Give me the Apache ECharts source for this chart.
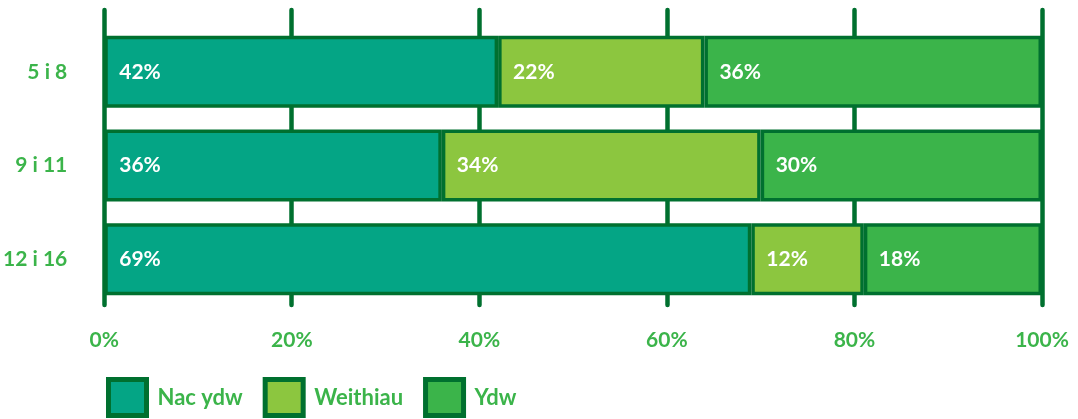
<!DOCTYPE html>
<html>
<head>
<meta charset="utf-8">
<script src="https://cdn.jsdelivr.net/npm/echarts@6/dist/echarts.min.js"></script>
<style>html,body{margin:0;padding:0;background:#fff}#c{width:1078px;height:419px}</style>
</head>
<body>
<div id="c"></div>
<script>
const categories = ['5 i 8', '9 i 11', '12 i 16'];
const seriesNames = ['Nac ydw', 'Weithiau', 'Ydw'];
// bar lengths as drawn (percent)
const nacYdw = [42, 36, 69];
const weithiau = [22, 34, 12];
const ydw = [36, 30, 19];
// printed labels
const nacYdwLabels = ['42%', '36%', '69%'];
const weithiauLabels = ['22%', '34%', '12%'];
const ydwLabels = ['36%', '30%', '18%'];
const xTicks = [0, 20, 40, 60, 80, 100];

const colors = ['#04a585', '#8cc63f', '#3bb44a'];
const dark = '#00702f';
const labelGreen = '#3bb44a';
const font = 'Lato';

const chart = echarts.init(document.getElementById('c'));
const values = [nacYdw, weithiau, ydw];
const labels = [nacYdwLabels, weithiauLabels, ydwLabels];
chart.setOption({
  animation: false,
  grid: [
    {left: 104, right: 36, top: 25, height: 281},
    {left: 104, right: 36, top: 10, height: 295}
  ],
  xAxis: [
    {gridIndex: 0, type: 'value', min: 0, max: 100, interval: 20,
     axisLine: {show: false}, axisTick: {show: false}, splitLine: {show: false},
     axisLabel: {margin: 24, color: labelGreen, fontFamily: font, fontWeight: 'bold', fontSize: 21,
       formatter: v => xTicks.includes(v) ? v + '%' : ''}},
    {gridIndex: 1, type: 'value', min: 0, max: 100, interval: 20,
     axisLine: {show: false}, axisTick: {show: false}, axisLabel: {show: false},
     splitLine: {show: true, lineStyle: {color: dark, width: 4.5, cap: 'round'}}}
  ],
  yAxis: [
    {gridIndex: 0, type: 'category', data: categories, inverse: true,
     axisLine: {show: false}, axisTick: {show: false},
     axisLabel: {margin: 37, color: labelGreen, fontFamily: font, fontWeight: 'bold', fontSize: 21}},
    {gridIndex: 1, type: 'category', data: categories, show: false}
  ],
  legend: {
    left: 106, top: 377, padding: 0, itemWidth: 38, itemHeight: 36, itemGap: 20,
    icon: 'rect',
    data: seriesNames,
    itemStyle: {borderColor: dark, borderWidth: 5},
    textStyle: {color: labelGreen, fontFamily: font, fontWeight: 'bold', fontSize: 22, padding: [4, 0, 0, 6]}
  },
  series: seriesNames.map((n, i) => ({
    name: n, type: 'bar', stack: 'total', xAxisIndex: 0, yAxisIndex: 0,
    data: values[i], barWidth: 72, z: 3,
    itemStyle: {color: colors[i], borderColor: dark, borderWidth: 3.5},
    label: {show: true, position: 'insideLeft', distance: 15, color: '#fff',
      fontFamily: font, fontWeight: 'bold', fontSize: 21,
      formatter: p => labels[i][p.dataIndex]}
  }))
});
</script>
</body>
</html>
